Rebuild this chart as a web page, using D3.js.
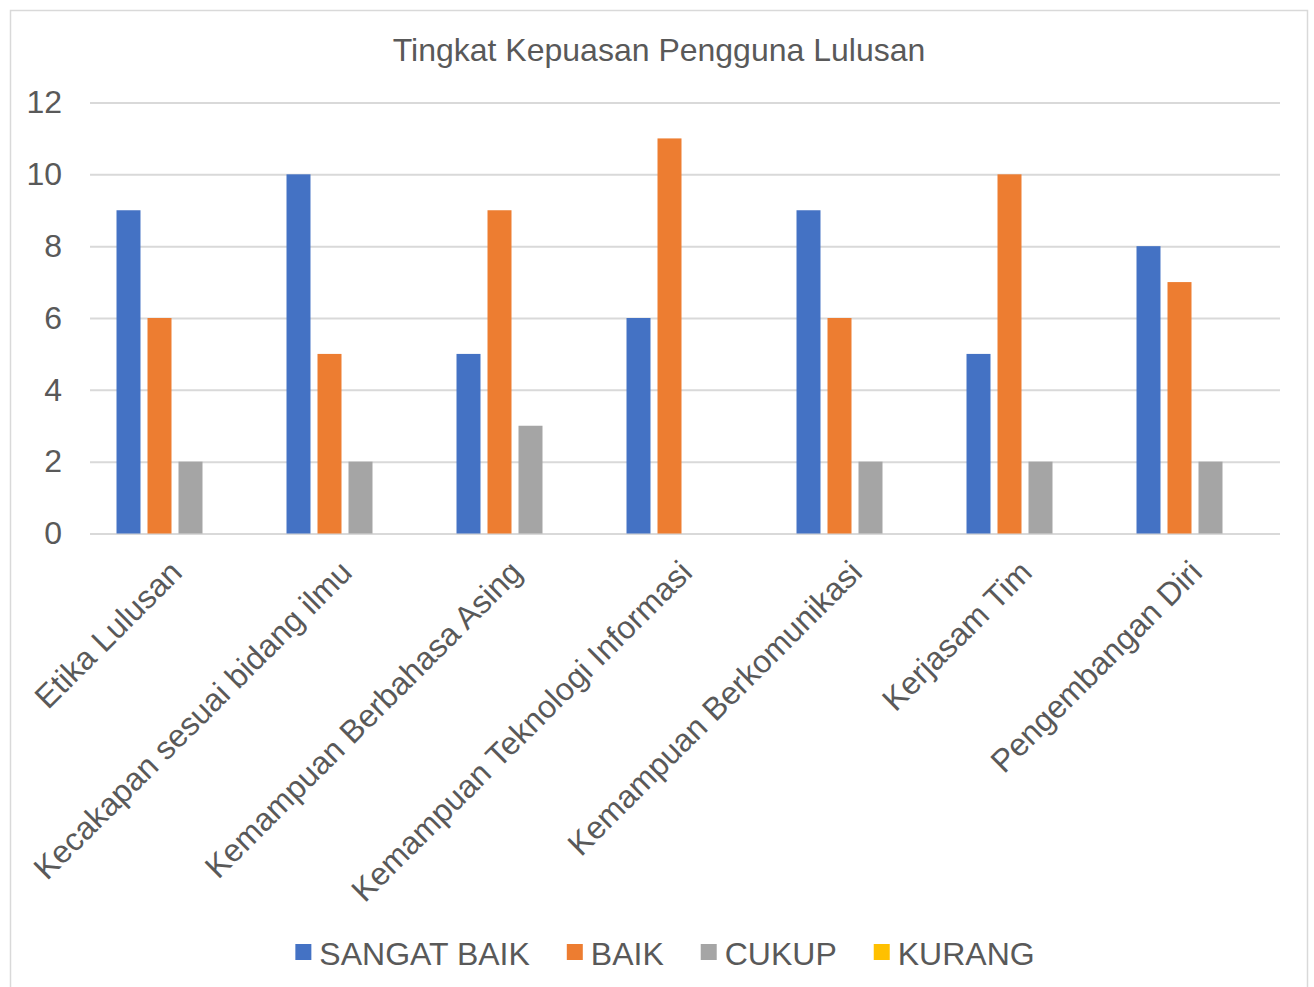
<!DOCTYPE html>
<html>
<head>
<meta charset="utf-8">
<script src="https://cdn.jsdelivr.net/npm/d3@7"></script>
<style>
  html, body { margin: 0; padding: 0; background: #fff; }
  svg text { font-family: "Liberation Sans", Arial, sans-serif; fill: #595959; }
</style>
</head>
<body>
<svg id="chart" width="1314" height="987"></svg>
<script>
const title = "Tingkat Kepuasan Pengguna Lulusan";
const categories = [
  "Etika Lulusan",
  "Kecakapan sesuai bidang ilmu",
  "Kemampuan Berbahasa Asing",
  "Kemampuan Teknologi Informasi",
  "Kemampuan Berkomunikasi",
  "Kerjasam Tim",
  "Pengembangan Diri"
];
const seriesNames = ["SANGAT BAIK", "BAIK", "CUKUP", "KURANG"];
const sangatBaik = [9, 10, 5, 6, 9, 5, 8];
const baik = [6, 5, 9, 11, 6, 10, 7];
const cukup = [2, 2, 3, 0, 2, 2, 2];
const kurang = [0, 0, 0, 0, 0, 0, 0];
const seriesValues = [sangatBaik, baik, cukup, kurang];
const colors = ["#4472C4", "#ED7D31", "#A5A5A5", "#FFC000"];
const yTicks = [0, 2, 4, 6, 8, 10, 12];

const svg = d3.select("#chart");
const plot = { left: 90, right: 1280, top: 102.5, bottom: 533.5 };
const FS = 32;

// chart border
svg.append("rect")
  .attr("x", 10.5).attr("y", 10.5)
  .attr("width", 1297).attr("height", 990)
  .attr("fill", "#fff").attr("stroke", "#d9d9d9").attr("stroke-width", 1.5);

// title
svg.append("text")
  .attr("x", 659).attr("y", 61)
  .attr("text-anchor", "middle")
  .style("font-size", FS + "px")
  .text(title);

const x0 = d3.scaleBand().domain(categories).range([plot.left, plot.right]).padding(0);
const x1 = d3.scaleBand().domain(seriesNames).range([0, x0.bandwidth()])
  .paddingInner(0.226).paddingOuter(0.855);
const y = d3.scaleLinear().domain([0, 12]).range([plot.bottom, plot.top]);

// gridlines + y tick labels
const yAxis = d3.axisLeft(y).tickValues(yTicks).tickSize(-(plot.right - plot.left)).tickPadding(28);
const gy = svg.append("g").attr("transform", `translate(${plot.left},0)`).call(yAxis);
gy.select(".domain").remove();
gy.selectAll(".tick line").attr("stroke", "#d9d9d9").attr("stroke-width", 2);
gy.selectAll(".tick text")
  .style("font-size", FS + "px")
  .attr("fill", "#595959")
  .style("font-family", '"Liberation Sans", Arial, sans-serif');

// bars
const data = categories.map((c, i) => ({ cat: c, vals: seriesNames.map((s, j) => ({ s, v: seriesValues[j][i], color: colors[j] })) }));
const groups = svg.append("g").selectAll("g").data(data).join("g")
  .attr("transform", d => `translate(${x0(d.cat)},0)`);
groups.selectAll("rect").data(d => d.vals.filter(e => e.v > 0)).join("rect")
  .attr("x", d => x1(d.s))
  .attr("width", x1.bandwidth())
  .attr("y", d => y(d.v))
  .attr("height", d => y(0) - y(d.v))
  .attr("fill", d => d.color);

// x axis category labels
const xAxis = d3.axisBottom(x0).tickSize(0).tickPadding(0);
const gx = svg.append("g").attr("transform", `translate(0,${plot.bottom})`).call(xAxis);
gx.select(".domain").remove();
gx.selectAll(".tick text")
  .style("font-size", FS + "px")
  .attr("fill", "#595959")
  .style("font-family", '"Liberation Sans", Arial, sans-serif')
  .attr("text-anchor", "end")
  .attr("y", 0).attr("dy", "0.35em")
  .attr("transform", "translate(1,33) rotate(-45)");

// legend
const legend = svg.append("g");
const items = legend.selectAll("g").data(seriesNames).join("g");
items.append("rect").attr("width", 16).attr("height", 16).attr("y", -21)
  .attr("fill", (d, i) => colors[i]);
items.append("text").attr("x", 24).attr("y", 0)
  .style("font-size", FS + "px").text(d => d);
let cx = 0;
const widths = [];
items.each(function () {
  const w = d3.select(this).select("text").node().getComputedTextLength();
  widths.push(24 + w);
});
items.attr("transform", (d, i) => {
  const t = `translate(${cx},0)`;
  cx += widths[i] + 37;
  return t;
});
const total = cx - 37;
legend.attr("transform", `translate(${665 - total / 2},965)`);
</script>
</body>
</html>
